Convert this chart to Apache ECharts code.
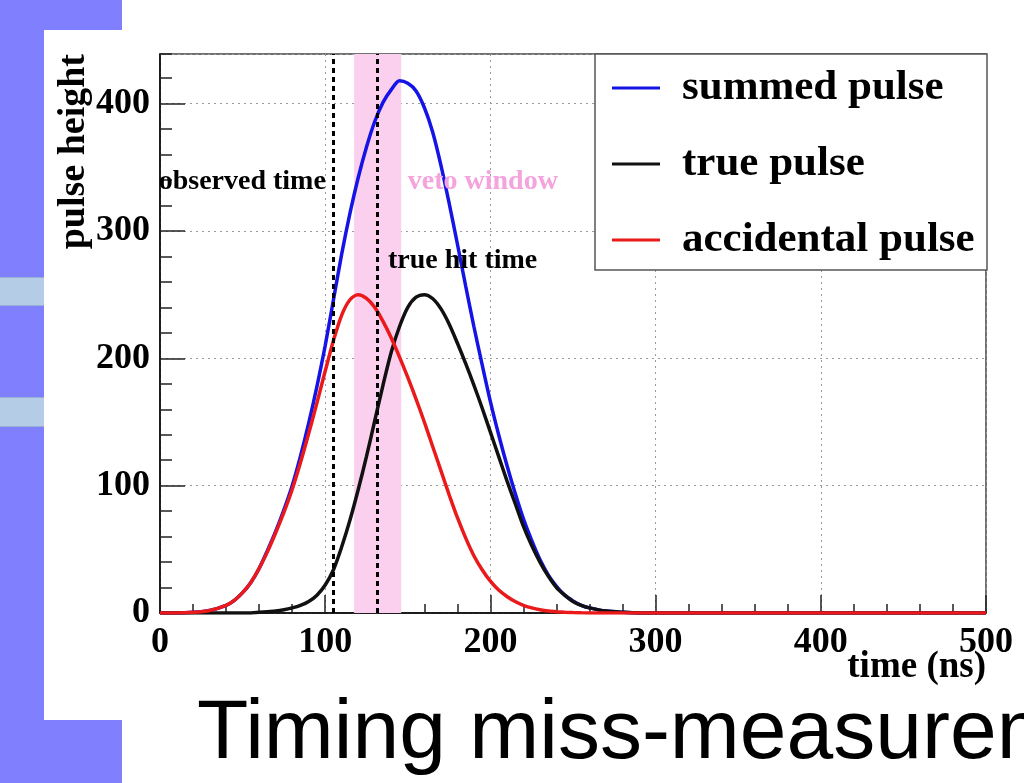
<!DOCTYPE html>
<html>
<head>
<meta charset="utf-8">
<title>Timing miss-measurement</title>
<script src="https://cdn.jsdelivr.net/npm/echarts@6/dist/echarts.min.js"></script>
<style>
  html, body { margin: 0; padding: 0; background: #ffffff; overflow: hidden; }
  .deco { position: absolute; }
  #band  { left: 0; top: 0; width: 122px; height: 783px; background: #8080ff; }
  #bar1  { left: 0; top: 277px; width: 200px; height: 27px; background: #b5cce6; border-top: 1px solid #97b0d4; border-bottom: 1px solid #97b0d4; }
  #bar2  { left: 0; top: 397px; width: 200px; height: 28px; background: #b5cce6; border-top: 1px solid #97b0d4; border-bottom: 1px solid #97b0d4; }
  #panel { left: 44px; top: 30px; width: 980px; height: 690px; background: #ffffff; }
  #chart { position: absolute; left: 0; top: 0; width: 1024px; height: 783px; }
</style>
</head>
<body>
<div class="deco" id="band"></div>
<div class="deco" id="bar1"></div>
<div class="deco" id="bar2"></div>
<div class="deco" id="panel"></div>
<div id="chart"></div>
<script>
// Sample times (ns)
const times = [0, 10, 20, 30, 40,
  45, 50, 55, 60, 65, 70, 75, 80, 85, 90,
  95, 100, 105, 110, 115, 120, 125, 130, 135, 140,
  145, 150, 155, 160, 165, 170, 175, 180, 185, 190,
  195, 200, 205, 210, 215, 220, 225, 230, 235, 240,
  245, 250, 255, 260,
  270, 280, 290, 300, 400, 500];

// Pulse heights at each sample time
const summedPulse = [0, 0, 0.5, 2, 6,
  10, 16, 24, 35, 49, 64, 81, 100, 123, 149,
  178, 210, 246, 282, 314, 342, 366, 386, 401, 411,
  418, 416, 410, 397, 378, 352, 322, 290, 257, 225,
  195, 166, 140, 116, 94, 74, 57, 42, 30, 21,
  14, 9.5, 6, 4,
  1.5, 0.5, 0, 0, 0, 0];
const truePulse = [0, 0, 0, 0, 0,
  0, 0, 0, 0.5, 1, 1.5, 2.5, 4, 6, 9,
  14, 22, 34, 52, 73, 97, 123, 151, 179, 205,
  225, 240, 248, 250, 247, 239, 227, 212, 196, 179,
  161, 142, 123, 104, 86, 68, 53, 40, 29, 20,
  14, 9, 6, 4,
  1.5, 0.5, 0, 0, 0, 0];
const accidentalPulse = [0, 0, 0.5, 2, 6,
  10, 16, 24, 35, 48, 63, 79, 97, 118, 141,
  165, 190, 214, 234, 246, 250, 247, 240, 229, 216,
  201, 185, 168, 150, 131, 112, 93, 75, 59, 45,
  34, 25, 18, 13, 9, 6, 4, 2.5, 1.5, 1,
  0.6, 0.3, 0.1, 0,
  0, 0, 0, 0, 0, 0];

const seriesNames = ['summed pulse', 'true pulse', 'accidental pulse'];

// Marker times (ns)
const observedTime = 105;
const trueHitTime = 131.5;
const vetoWindow = [117.5, 146];

// Axis ranges
const xRange = [0, 500];
const yRange = [0, 439];

const pairs = vals => times.map((t, i) => [t, vals[i]]);

const serif = "'Liberation Serif', 'Times New Roman', serif";
const chart = echarts.init(document.getElementById('chart'), null, { renderer: 'canvas' });

const option = {
  animation: false,
  title: {
    text: 'Timing miss-measurement',
    left: 197,
    top: 693,
    padding: 0,
    textStyle: { fontFamily: "'Liberation Sans', Arial, sans-serif", fontWeight: 'normal', fontSize: 84, color: '#000' }
  },
  grid: {
    left: 160, top: 54, right: 38, bottom: 170,
    show: true, borderColor: '#444', borderWidth: 1.5, backgroundColor: 'transparent'
  },
  legend: {
    data: seriesNames,
    orient: 'vertical',
    left: 612, top: 65,
    padding: 0,
    itemGap: 30,
    itemWidth: 48, itemHeight: 3,
    icon: 'rect',
    selectedMode: false,
    textStyle: { fontFamily: serif, fontWeight: 'bold', fontSize: 43, lineHeight: 46, color: '#000', padding: [0, 0, 0, 17] }
  },
  xAxis: {
    type: 'value', min: xRange[0], max: xRange[1], interval: 100,
    axisLine: { show: true, onZero: false, lineStyle: { color: '#000', width: 1.5 } },
    axisTick: { show: true, inside: true, length: 18, lineStyle: { color: '#222', width: 1.5 } },
    minorTick: { show: true, splitNumber: 5, length: 9, lineStyle: { color: '#222', width: 1.5 } },
    axisLabel: { fontFamily: serif, fontWeight: 'bold', fontSize: 36, color: '#000', margin: 12 },
    splitLine: { show: true, lineStyle: { color: '#9a9a9a', width: 1, type: [2, 4] } }
  },
  yAxis: [
    {
      type: 'value', position: 'left', min: yRange[0], max: yRange[1], interval: 100,
      axisLine: { show: true, onZero: false, lineStyle: { color: '#000', width: 1.5 } },
      axisTick: { show: true, inside: true, length: 25, lineStyle: { color: '#222', width: 1.5 } },
      axisLabel: {
        fontFamily: serif, fontWeight: 'bold', fontSize: 36, color: '#000', margin: 10,
        showMaxLabel: false,
        formatter: v => (v % 100 === 0 ? String(v) : '')
      },
      splitLine: { show: true, lineStyle: { color: '#9a9a9a', width: 1, type: [2, 4] } }
    },
    {
      // minor ticks every 20
      type: 'value', position: 'left', min: yRange[0], max: yRange[1], interval: 20,
      axisLine: { show: false },
      axisTick: { show: true, inside: true, length: 12, lineStyle: { color: '#222', width: 1.5 } },
      axisLabel: { show: false },
      splitLine: { show: false }
    }
  ],
  graphic: [
    {
      type: 'rect', z: 1,
      shape: { x: 595, y: 54, width: 392, height: 216 },
      style: { fill: '#fff', stroke: '#555', lineWidth: 1.5 }
    },
    {
      type: 'text', z: 5,
      x: 74, y: 54, rotation: Math.PI / 2,
      style: { text: 'pulse height', fontFamily: serif, fontWeight: 'bold', fontSize: 38, fill: '#000', align: 'right', verticalAlign: 'middle' }
    },
    {
      type: 'text', z: 5,
      x: 986, y: 667,
      style: { text: 'time (ns)', fontFamily: serif, fontWeight: 'bold', fontSize: 37, fill: '#000', align: 'right', verticalAlign: 'middle' }
    }
  ],
  series: [
    {
      // veto window band
      type: 'line', data: [], z: 1, silent: true,
      markArea: {
        silent: true,
        itemStyle: { color: '#fbd0ef' },
        data: [[{ xAxis: vetoWindow[0] }, { xAxis: vetoWindow[1] }]]
      }
    },
    {
      name: seriesNames[0], type: 'line', data: pairs(summedPulse),
      showSymbol: false, smooth: 0.3, color: '#1414e6',
      lineStyle: { width: 3.5 }, z: 2
    },
    {
      name: seriesNames[1], type: 'line', data: pairs(truePulse),
      showSymbol: false, smooth: 0.3, color: '#111',
      lineStyle: { width: 3.5 }, z: 2
    },
    {
      name: seriesNames[2], type: 'line', data: pairs(accidentalPulse),
      showSymbol: false, smooth: 0.3, color: '#ea1a1a',
      lineStyle: { width: 3.5 }, z: 2
    },
    {
      // time markers and their captions
      type: 'scatter', data: [], z: 3, silent: true,
      markLine: {
        silent: true, symbol: 'none',
        lineStyle: { color: '#000', width: 3, type: [5, 4] },
        label: { show: false },
        data: [{ xAxis: observedTime }, { xAxis: trueHitTime }]
      },
      markPoint: {
        silent: true, symbol: 'circle', symbolSize: 0,
        label: { show: true, fontFamily: serif, fontWeight: 'bold', fontSize: 28, color: '#000' },
        data: [
          { coord: [101, 338.5], value: 'observed time', label: { position: 'left', distance: 1, formatter: 'observed time' } },
          { coord: [150, 338.5], value: 'veto window', label: { position: 'right', distance: 0, formatter: 'veto window', color: '#f4a3dd' } },
          { coord: [138, 277], value: 'true hit time', label: { position: 'right', distance: 0, formatter: 'true hit time' } }
        ]
      }
    }
  ]
};

chart.setOption(option);
</script>
</body>
</html>
